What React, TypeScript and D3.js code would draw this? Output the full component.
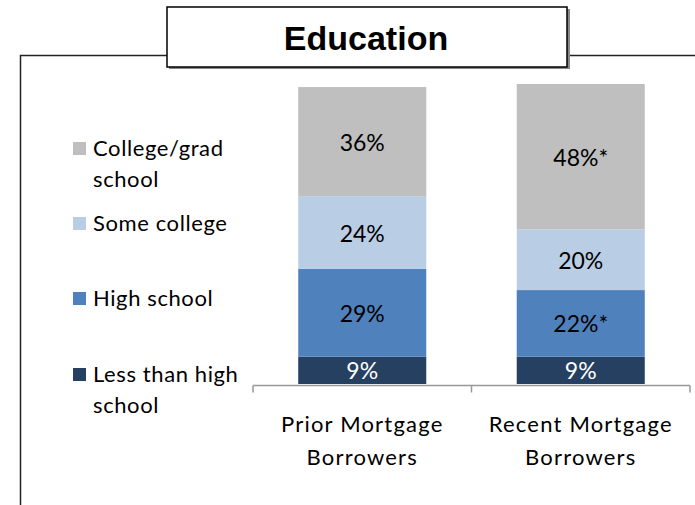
import React, { useEffect, useRef } from 'react';
import * as d3 from 'd3';

const CATEGORIES = ['Prior Mortgage Borrowers', 'Recent Mortgage Borrowers'];
const CATEGORY_LINES = [['Prior Mortgage', 'Borrowers'], ['Recent Mortgage', 'Borrowers']];
const SERIES = ['Less than high school', 'High school', 'Some college', 'College/grad school'];
const LESS_THAN_HS = [9, 9];
const HIGH_SCHOOL = [29, 22];
const SOME_COLLEGE = [24, 20];
const COLLEGE_GRAD = [36, 48];
const LABELS = [
  ['9%', '9%'],
  ['29%', '22%*'],
  ['24%', '20%'],
  ['36%', '48%*'],
];
const LEGEND_LINES = [['Less than high', 'school'], ['High school'], ['Some college'], ['College/grad', 'school']];
const COLORS = ['#254061', '#4F81BD', '#B9CDE5', '#BFBFBF'];
const LABEL_COLORS = ['#ffffff', '#000000', '#000000', '#000000'];

const FONT = 'Lato, "Open Sans", sans-serif';

const App: React.FC = () => {
  const ref = useRef<SVGSVGElement>(null);

  useEffect(() => {
    const svg = d3.select(ref.current);
    svg.selectAll('*').remove();

    // outer frame
    svg.append('path')
      .attr('d', 'M20.5,505 V55.5 H695')
      .attr('fill', 'none')
      .attr('stroke', '#222')
      .attr('stroke-width', 1.5);

    // title box
    svg.append('rect')
      .attr('x', 169).attr('y', 9).attr('width', 401).attr('height', 60)
      .attr('fill', '#888');
    svg.append('rect')
      .attr('x', 167).attr('y', 7).attr('width', 400).attr('height', 60)
      .attr('fill', '#fff').attr('stroke', '#000').attr('stroke-width', 1.5);
    svg.append('text')
      .attr('x', 366).attr('y', 50)
      .attr('text-anchor', 'middle')
      .style('font-family', 'Arial, "Liberation Sans", sans-serif')
      .style('font-weight', 'bold')
      .style('font-size', '34px')
      .text('Education');

    const data = CATEGORIES.map((c, i) => ({
      cat: c,
      s0: LESS_THAN_HS[i],
      s1: HIGH_SCHOOL[i],
      s2: SOME_COLLEGE[i],
      s3: COLLEGE_GRAD[i],
    }));

    const x = d3.scaleBand<string>()
      .domain(CATEGORIES)
      .range([253, 690])
      .paddingInner(0.414)
      .paddingOuter(0.207);
    const y = d3.scaleLinear().domain([0, 100]).range([384, 81]);

    const stack = d3.stack<any>().keys(['s0', 's1', 's2', 's3']);
    const layers = stack(data);

    layers.forEach((layer, li) => {
      const g = svg.append('g');
      g.selectAll('rect')
        .data(layer)
        .enter().append('rect')
        .attr('x', (d: any) => x(d.data.cat)!)
        .attr('width', x.bandwidth())
        .attr('y', (d: any) => y(d[1]))
        .attr('height', (d: any) => y(d[0]) - y(d[1]))
        .attr('fill', COLORS[li]);
      g.selectAll('text')
        .data(layer)
        .enter().append('text')
        .attr('x', (d: any) => x(d.data.cat)! + x.bandwidth() / 2)
        .attr('y', (d: any) => (y(d[0]) + y(d[1])) / 2 + 9)
        .attr('text-anchor', 'middle')
        .style('font-family', FONT)
        .style('font-size', '23px')
        .style('fill', LABEL_COLORS[li])
        .text((_d: any, i: number) => LABELS[li][i]);
    });

    // category axis
    const axisY = 385.5;
    const axis = svg.append('g').attr('stroke', '#999').attr('stroke-width', 1.5);
    axis.append('line').attr('x1', 253).attr('x2', 690).attr('y1', axisY).attr('y2', axisY);
    const edges = [253, ...CATEGORIES.slice(1).map(c => x(c)! - (x.step() - x.bandwidth()) / 2), 690];
    edges.forEach(ex => {
      axis.append('line').attr('x1', ex).attr('x2', ex).attr('y1', axisY).attr('y2', axisY + 7);
    });

    CATEGORIES.forEach((c, i) => {
      const t = svg.append('text')
        .attr('text-anchor', 'middle')
        .style('font-family', FONT)
        .style('font-size', '22px')
        .style('letter-spacing', '1.2px')
        .style('fill', '#000');
      CATEGORY_LINES[i].forEach((line, li) => {
        t.append('tspan')
          .attr('x', x(c)! + x.bandwidth() / 2)
          .attr('y', 432 + li * 33)
          .text(line);
      });
    });

    // legend (top to bottom: reverse of stack)
    const legendY = [148, 223, 298, 374];
    const order = [3, 2, 1, 0];
    order.forEach((si, k) => {
      const ly = legendY[k];
      svg.append('rect')
        .attr('x', 73).attr('y', ly - 6).attr('width', 13).attr('height', 13)
        .attr('fill', COLORS[si]);
      const t = svg.append('text')
        .style('font-family', FONT)
        .style('font-size', '22px')
        .style('letter-spacing', '0.6px')
        .style('fill', '#000');
      LEGEND_LINES[si].forEach((line, li) => {
        t.append('tspan')
          .attr('x', 93)
          .attr('y', ly + 8 + li * 31)
          .text(line);
      });
    });
  }, []);

  return (
    <svg ref={ref} width={695} height={505}
      style={{ position: 'absolute', left: 0, top: 0, background: '#fff' }} />
  );
};

export default App;
